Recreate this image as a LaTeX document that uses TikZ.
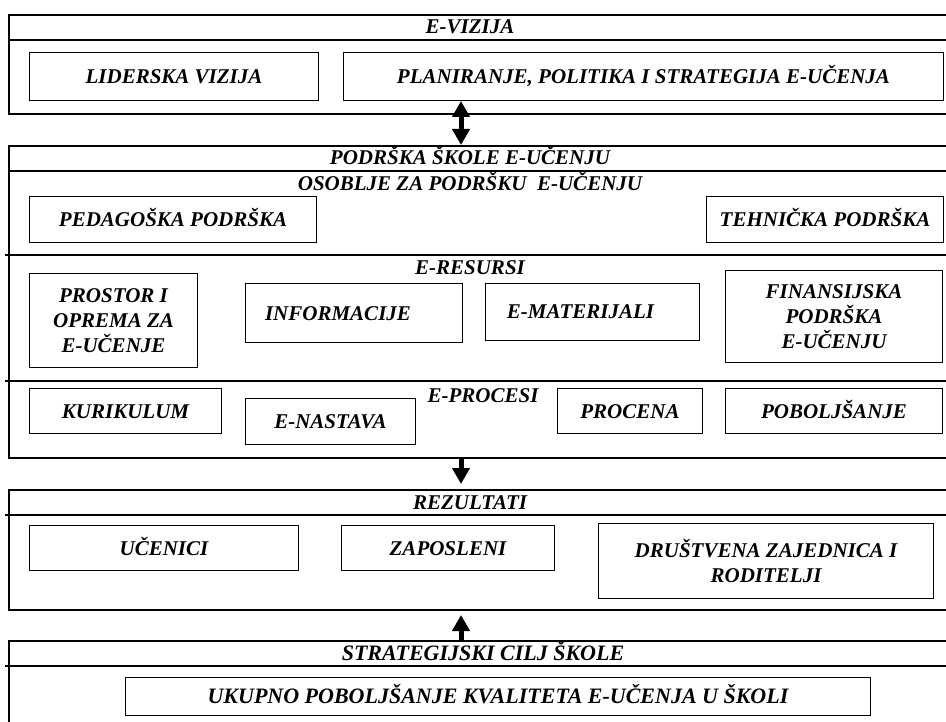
\documentclass[tikz,border=0pt]{standalone}
\usepackage{fontspec}
\setmainfont{Liberation Serif}
\usetikzlibrary{arrows.meta,positioning}

\begin{document}
\begin{tikzpicture}[x=1pt,y=-1pt,
  every node/.style={font=\bfseries\itshape\fontsize{21}{25}\selectfont},
  frame/.style={draw,line width=2pt,anchor=north west,minimum width=952pt,inner sep=0pt},
  box/.style={draw,line width=1pt,anchor=north west,inner sep=0pt,align=center},
  oneline/.style={text height=14pt,text depth=0pt},
  title/.style={inner sep=0pt,oneline},
  bigarrow/.style={line width=5pt,-{Triangle[length=16pt,width=17pt]}}]

  \useasboundingbox (0,0) rectangle (946,722);

  % Define frames
  \node[frame, minimum height=99pt]  (vizija)    at (8,14)  {};
  \node[frame, minimum height=312pt] (podrska)   at (8,145) {};
  \node[frame, minimum height=120pt] (rezultati) at (8,489) {};
  \node[frame, minimum height=100pt] (cilj)      at (8,640) {};
  \draw[line width=2pt] (8,40)  -- (960,40);
  \draw[line width=2pt] (8,171) -- (960,171);
  \draw[line width=2pt] (5,255) -- (960,255);
  \draw[line width=2pt] (5,381) -- (960,381);
  \draw[line width=2pt] (5,515) -- (960,515);
  \draw[line width=2pt] (5,666) -- (960,666);

  % Titles
  \node[title] (tvizija)    at (470,27)  {E-VIZIJA};
  \node[title] (tpodrska)   at (470,158) {PODRŠKA ŠKOLE E-UČENJU};
  \node[title] (tosoblje)   at (470,184) {OSOBLJE ZA PODRŠKU\ \ E-UČENJU};
  \node[title] (tresursi)   at (470,268) {E-RESURSI};
  \node[title] (tprocesi)   at (483,395) {E-PROCESI};
  \node[title] (trezultati) at (470,502) {REZULTATI};
  \node[title, font=\bfseries\itshape\fontsize{22}{26}\selectfont] (tcilj) at (483,653) {STRATEGIJSKI CILJ ŠKOLE};

  % Define nodes
  \node[box, oneline, minimum width=289pt, minimum height=48pt] (lider) at (29,52) {LIDERSKA VIZIJA};
  \node[box, oneline, minimum width=600pt, minimum height=48pt, right=24pt of lider] (planiranje) {PLANIRANJE, POLITIKA I STRATEGIJA E-UČENJA};

  \node[box, oneline, minimum width=287pt, minimum height=46pt] (pedagoska) at (29,196)  {PEDAGOŠKA PODRŠKA};
  \node[box, oneline, minimum width=237pt, minimum height=46pt] (tehnicka)  at (706,196) {TEHNIČKA PODRŠKA};

  \node[box, minimum width=168pt, minimum height=94pt] (prostor) at (29,273) {PROSTOR I\\OPREMA ZA\\E-UČENJE};
  \node[box, oneline, minimum width=217pt, minimum height=59pt] (informacije) at (245,283) {INFORMACIJE\hspace*{32pt}};
  \node[box, oneline, minimum width=214pt, minimum height=57pt] (materijali)  at (485,283) {E-MATERIJALI\hspace*{24pt}};
  \node[box, minimum width=217pt, minimum height=92pt] (finansije) at (725,270) {FINANSIJSKA\\PODRŠKA\\E-UČENJU};

  \node[box, oneline, minimum width=192pt, minimum height=45pt] (kurikulum)   at (29,388)  {KURIKULUM};
  \node[box, oneline, minimum width=170pt, minimum height=46pt] (nastava)     at (245,398) {E-NASTAVA};
  \node[box, oneline, minimum width=145pt, minimum height=45pt] (procena)     at (557,388) {PROCENA};
  \node[box, oneline, minimum width=217pt, minimum height=45pt] (poboljsanje) at (725,388) {POBOLJŠANJE};

  \node[box, oneline, minimum width=269pt, minimum height=45pt] (ucenici) at (29,525) {UČENICI};
  \node[box, oneline, minimum width=213pt, minimum height=45pt, right=42pt of ucenici] (zaposleni) {ZAPOSLENI};
  \node[box, minimum width=335pt, minimum height=75pt] (drustvo) at (598,523) {DRUŠTVENA ZAJEDNICA I\\RODITELJI};

  \node[box, oneline, minimum width=745pt, minimum height=38pt, font=\bfseries\itshape\fontsize{22}{26}\selectfont] (ukupno) at (125,677) {UKUPNO POBOLJŠANJE KVALITETA E-UČENJA U ŠKOLI};

  % Connect the nodes
  \coordinate (mid) at (461,0);
  \draw[bigarrow, {Triangle[length=16pt,width=17pt]}-{Triangle[length=16pt,width=17pt]}] (planiranje.south -| mid) -- (podrska.north -| mid);
  \draw[bigarrow, shorten >=5pt] (podrska.south -| mid) -- (rezultati.north -| mid);
  \draw[bigarrow, shorten >=4pt] (cilj.north -| mid) -- (rezultati.south -| mid);
\end{tikzpicture}
\end{document}
